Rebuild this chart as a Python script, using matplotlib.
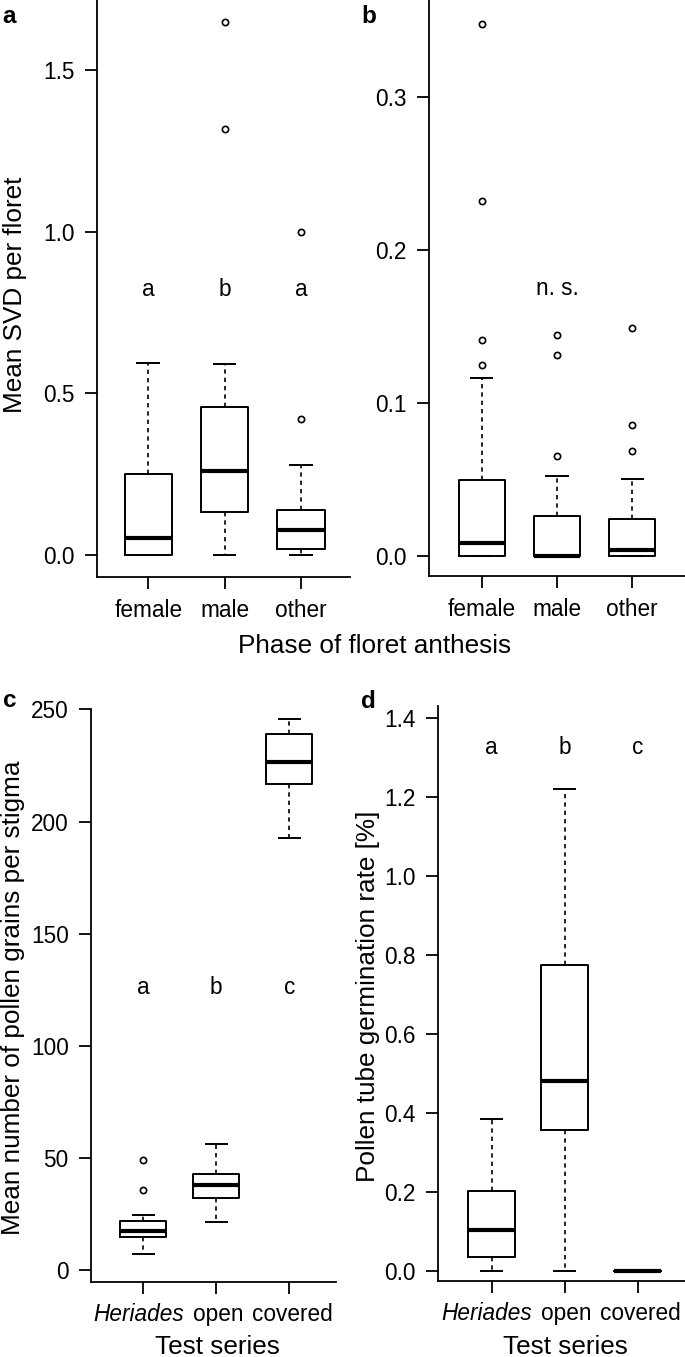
import matplotlib
matplotlib.use("Agg")
import matplotlib.pyplot as plt
from matplotlib.transforms import ScaledTranslation

plt.rcParams['font.family'] = ['Liberation Sans', 'DejaVu Sans']

W, H = 685, 1357

# ---------------- data ----------------
phase_labels = ['female', 'male', 'other']
series_labels = ['Heriades', 'open', 'covered']

# panel a: Mean SVD per floret
a_whislo = [0.0, 0.0, 0.0]
a_q1 = [0.0, 0.134, 0.0175]
a_med = [0.053, 0.259, 0.078]
a_q3 = [0.2495, 0.458, 0.139]
a_whishi = [0.595, 0.592, 0.279]
a_fliers = [[], [1.317, 1.648], [0.4206, 0.998]]
a_letters = ['a', 'b', 'a']

# panel b
b_whislo = [0.0, 0.0, 0.0]
b_q1 = [0.0, 0.0, 0.0]
b_med = [0.0083, 0.0, 0.0037]
b_q3 = [0.0495, 0.026, 0.0244]
b_whishi = [0.1161, 0.0525, 0.0505]
b_fliers = [[0.1248, 0.1412, 0.232, 0.348], [0.0656, 0.1314, 0.1444], [0.0686, 0.0854, 0.149]]
b_letters = ['', 'n. s.', '']

# panel c: pollen grains per stigma
c_whislo = [7.3, 21.5, 192.5]
c_q1 = [15.0, 32.2, 216.8]
c_med = [17.7, 37.9, 226.6]
c_q3 = [21.8, 42.8, 239.1]
c_whishi = [24.8, 56.3, 245.5]
c_fliers = [[35.6, 49.0], [], []]
c_letters = ['a', 'b', 'c']

# panel d: pollen tube germination rate
d_whislo = [0.0, 0.0, 0.0]
d_q1 = [0.0354, 0.3554, 0.0]
d_med = [0.102, 0.4795, 0.0]
d_q3 = [0.2018, 0.7747, 0.0]
d_whishi = [0.383, 1.220, 0.0]
d_fliers = [[], [], []]
d_letters = ['a', 'b', 'c']

TICK_FS = 16.3
LAB_FS = 18.8

fig = plt.figure(figsize=(W / 100, H / 100), dpi=100)


def px_axes(x0, x1, ytop, ybot):
    return fig.add_axes([x0 / W, 1 - ybot / H, (x1 - x0) / W, (ybot - ytop) / H])


def stats(wlo, q1, med, q3, whi, fl):
    return [dict(whislo=wlo[i], q1=q1[i], med=med[i], q3=q3[i], whishi=whi[i],
                 fliers=fl[i]) for i in range(len(med))]


def draw(ax, st, width, xlim, ylim, yticks, yfmt, labels, letters, letter_y,
         italic_first=False, label_shift=None):
    ax.bxp(st, positions=[1, 2, 3], widths=width, capwidths=width * 0.5,
           boxprops=dict(color='black', linewidth=1.4),
           whiskerprops=dict(color='black', linewidth=1.2, linestyle=(0, (2.6, 2.4))),
           capprops=dict(color='black', linewidth=1.4, solid_capstyle='butt'),
           medianprops=dict(color='black', linewidth=3.0, solid_capstyle='butt'),
           flierprops=dict(marker='o', markerfacecolor='none', markeredgecolor='black',
                           markersize=4.5, markeredgewidth=1.2, linestyle='none'),
           manage_ticks=False)
    ax.set_xlim(*xlim)
    ax.set_ylim(*ylim)
    ax.set_xticks([1, 2, 3])
    ax.set_xticklabels(labels, fontsize=TICK_FS)
    ax.set_yticks(yticks)
    ax.set_yticklabels([yfmt.format(v) for v in yticks], fontsize=TICK_FS)
    for s in ['top', 'right']:
        ax.spines[s].set_visible(False)
    for s in ['left', 'bottom']:
        ax.spines[s].set_linewidth(1.3)
    ax.tick_params(axis='both', length=8.3, width=1.3, direction='out', colors='black')
    ax.tick_params(axis='x', pad=7)
    ax.tick_params(axis='y', pad=7.5)
    if italic_first:
        ax.get_xticklabels()[0].set_fontstyle('italic')
    if label_shift:
        for lab, dx in zip(ax.get_xticklabels(), label_shift):
            lab.set_transform(lab.get_transform() +
                              ScaledTranslation(dx / 100, 0, fig.dpi_scale_trans))
    for i, t in enumerate(letters):
        if t:
            ax.text(i + 1, letter_y, t, ha='center', va='baseline', fontsize=TICK_FS)
    ax.set_facecolor('none')


axa = px_axes(96.7, 350, 0, 577.3)
draw(axa, stats(a_whislo, a_q1, a_med, a_q3, a_whishi, a_fliers), 0.62,
     (0.324, 3.643), (-0.069, 1.717), [0.0, 0.5, 1.0, 1.5], '{:.1f}',
     phase_labels, a_letters, 0.801)

axb = px_axes(428.7, 685, 0, 576.3)
draw(axb, stats(b_whislo, b_q1, b_med, b_q3, b_whishi, b_fliers), 0.616,
     (0.295, 3.703), (-0.0133, 0.3634), [0.0, 0.1, 0.2, 0.3], '{:.1f}',
     phase_labels, b_letters, 0.1704)

axc = px_axes(90.7, 335.5, 709.3, 1282)
draw(axc, stats(c_whislo, c_q1, c_med, c_q3, c_whishi, c_fliers), 0.634,
     (0.2795, 3.633), (-5.21, 250), [0, 50, 100, 150, 200, 250], '{:d}',
     series_labels, c_letters, 123, italic_first=True, label_shift=[-4.5, 1.5, 3])

axd = px_axes(437.7, 685, 705.7, 1281)
draw(axd, stats(d_whislo, d_q1, d_med, d_q3, d_whishi, d_fliers), 0.64,
     (0.2603, 3.648), (-0.026, 1.430), [0.0, 0.2, 0.4, 0.6, 0.8, 1.0, 1.2, 1.4], '{:.1f}',
     series_labels, d_letters, 1.308, italic_first=True, label_shift=[-5, 2, 2.5])


def ftext(x, y, s, **kw):
    fig.text(x / W, 1 - y / H, s, **kw)


# axis labels
ftext(21.9, 295, 'Mean SVD per floret', rotation=90, rotation_mode='anchor',
      ha='center', va='baseline', fontsize=LAB_FS)
ftext(20.5, 997.5, 'Mean number of pollen grains per stigma', rotation=90,
      rotation_mode='anchor', ha='center', va='baseline', fontsize=LAB_FS)
ftext(374.5, 996, 'Pollen tube germination rate [%]', rotation=90,
      rotation_mode='anchor', ha='center', va='baseline', fontsize=LAB_FS)
ftext(374.5, 653.3, 'Phase of floret anthesis', ha='center', va='baseline', fontsize=LAB_FS)
ftext(217.5, 1353.5, 'Test series', ha='center', va='baseline', fontsize=LAB_FS)
ftext(565, 1353.5, 'Test series', ha='center', va='baseline', fontsize=LAB_FS)

# panel letters
for (x, y, s) in [(2.5, 22.7, 'a'), (361.5, 23.3, 'b'), (2.5, 706.7, 'c'), (361.5, 707.7, 'd')]:
    ftext(x, y, s, ha='left', va='baseline', fontsize=17.5, fontweight='bold')

fig.savefig('out.png', dpi=100, facecolor='white')
